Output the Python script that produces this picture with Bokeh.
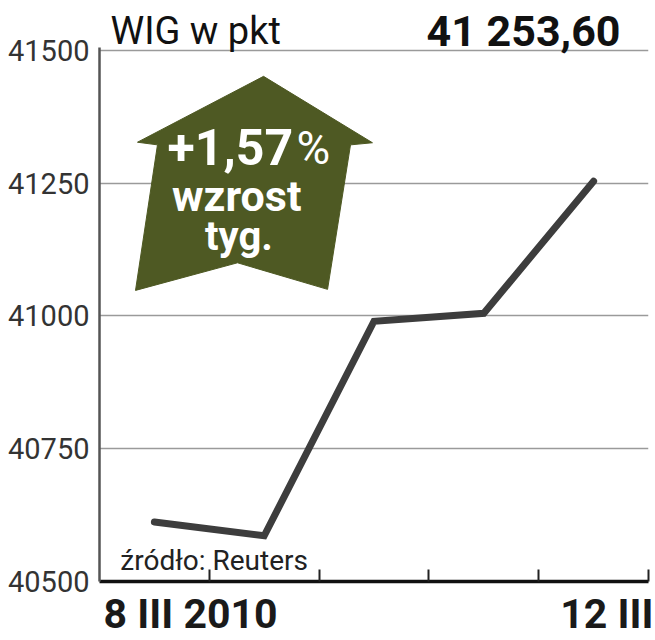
from bokeh.plotting import figure
from bokeh.models import Range1d, FixedTicker, Label
from bokeh.embed import file_html
from bokeh.resources import INLINE

# ---- data ----
days = [0.5, 1.5, 2.5, 3.5, 4.5]          # 8..12 III 2010 (slot centres)
wig = [40612, 40586, 40990, 41005, 41253.6]
y_ticks = [40500, 40750, 41000, 41250, 41500]
x_ticks = [1, 2, 3, 4, 5]
day_label_pos = [0.829, 4.62]
day_labels = ["8 III 2010", "12 III"]
title_text = "WIG w pkt"
last_value_text = "41 253,60"
source_text = "źródło: Reuters"
change_text = "+1,57"
change_sign = "%"
change_word1 = "wzrost"
change_word2 = "tyg."

# decoration geometry: up-arrow badge (data space)
arrow_x = [1.494, 2.486, 2.286, 2.077, 1.257, 0.328, 0.528, 0.346]
arrow_y = [41451, 41326, 41322, 41050, 41100, 41048, 41322, 41327]

FONT = "Roboto"
OLIVE = "#4e5923"

# y range extended above 41500 to leave room for the heading texts
p = figure(width=655, height=640, output_backend="svg", toolbar_location=None,
           x_range=Range1d(0, 5), y_range=Range1d(40500, 41593.8),
           min_border_left=99, min_border_right=7, min_border_top=0,
           min_border_bottom=57)
p.outline_line_color = None
p.background_fill_color = "white"
p.border_fill_color = "white"

# grid
p.xgrid.grid_line_color = None
p.ygrid.ticker = FixedTicker(ticks=y_ticks)
p.ygrid.grid_line_color = "#9a9a9a"
p.ygrid.grid_line_width = 1.5

# y axis
p.yaxis.ticker = FixedTicker(ticks=y_ticks)
p.yaxis.bounds = (40500, 41505)
p.yaxis.axis_line_color = "#555555"
p.yaxis.axis_line_width = 2.5
p.yaxis.major_tick_in = 0
p.yaxis.major_tick_out = 0
p.yaxis.minor_tick_line_color = None
p.yaxis.major_label_text_font = FONT
p.yaxis.major_label_text_font_size = "29px"
p.yaxis.major_label_text_color = "#333333"
p.yaxis.major_label_standoff = 10

# x axis: day labels as major ticks, tick marks as minor ticks
p.xaxis.ticker = FixedTicker(ticks=day_label_pos, minor_ticks=x_ticks)
p.xaxis.major_label_overrides = dict(zip(day_label_pos, day_labels))
p.xaxis.axis_line_color = "#111111"
p.xaxis.axis_line_width = 3.5
p.xaxis.major_tick_in = 0
p.xaxis.major_tick_out = 0
p.xaxis.minor_tick_in = 12
p.xaxis.minor_tick_out = 0
p.xaxis.minor_tick_line_color = "#222222"
p.xaxis.minor_tick_line_width = 2
p.xaxis.major_label_text_font = FONT
p.xaxis.major_label_text_font_size = "41px"
p.xaxis.major_label_text_font_style = "bold"
p.xaxis.major_label_text_color = "#1a1a1a"
p.xaxis.major_label_standoff = 8

# arrow badge
p.patch(arrow_x, arrow_y, fill_color=OLIVE, line_color=OLIVE, line_width=1)

# data line
p.line(days, wig, line_color="#3d3d3d", line_width=7, line_cap="round",
       line_join="miter")

# texts
def lab(x, y, t, size, bold=False, align="left", color="#111111"):
    p.add_layout(Label(x=x, y=y, text=t, text_font=FONT,
                       text_font_size=size, text_color=color,
                       text_font_style="bold" if bold else "normal",
                       text_align=align, text_baseline="alphabetic"))

lab(0.10, 41537, title_text, "38px")
lab(4.745, 41537, last_value_text, "43px", bold=True, align="right")
lab(0.19, 40539, source_text, "28px", color="#222222")

lab(0.62, 41318, change_text, "50px", bold=True, color="white")
lab(1.795, 41316, change_sign, "46px", color="white")
lab(1.25, 41226, change_word1, "43px", bold=True, align="center", color="white")
lab(1.27, 41150, change_word2, "40px", bold=True, align="center", color="white")

open("out.html", "w").write(file_html(p, INLINE))
